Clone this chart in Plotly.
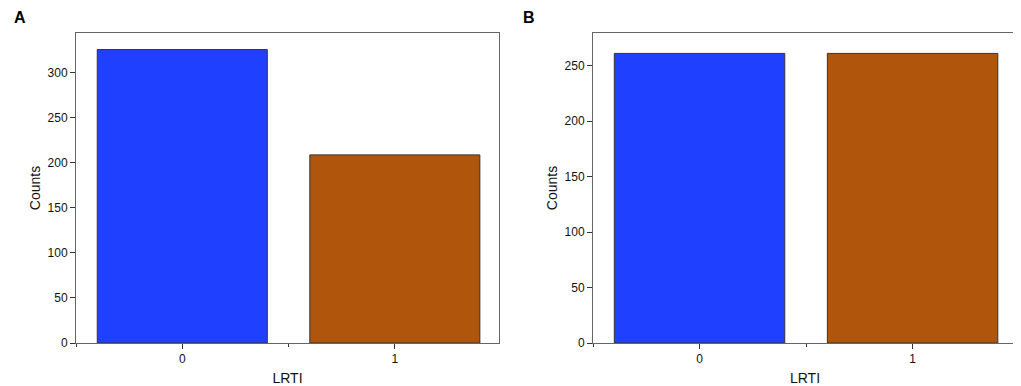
import plotly.graph_objects as go

categories = [0, 1]
counts_a = [326, 209]
counts_b = [261, 261]
bar_colors = ["#2040FF", "#B0550C"]
panel_labels = ["A", "B"]

# page body has 8px default margin: figure placed at (8, 8)
OFF = 8
W, H = 1021 - OFF, 386 - OFF
fig = go.Figure()

fig.add_trace(go.Bar(x=categories, y=counts_a, width=0.8, marker=dict(color=bar_colors, line=dict(color="#333333", width=1)),
                     xaxis="x", yaxis="y", showlegend=False))
fig.add_trace(go.Bar(x=categories, y=counts_b, width=0.8, marker=dict(color=bar_colors, line=dict(color="#333333", width=1)),
                     xaxis="x2", yaxis="y2", showlegend=False))

font_family = "Liberation Sans, Arial, sans-serif"

def px_x(p):
    return (p - OFF) / W

def px_y(p):
    return 1 - (p - OFF) / H

ydom = [px_y(343), px_y(33)]

def xax(domain, anchor):
    return dict(domain=domain, anchor=anchor, range=[-0.5, 1.49], tickvals=[0, 1], ticktext=["0", "1"],
                ticks="outside", ticklen=5, tickcolor="#333", showline=True, linecolor="#666", linewidth=1,
                mirror=True, showgrid=False, zeroline=False, automargin=False,
                minor=dict(tick0=0, dtick=0.5, ticks="outside", ticklen=3, tickcolor="#333"),
                title=dict(text="LRTI", font=dict(size=14, color="#111"), standoff=7),
                tickfont=dict(size=12, color="#111"))

def yax(domain, anchor, rng, dtick):
    return dict(domain=domain, anchor=anchor, range=rng, dtick=dtick, ticks="outside", ticklen=5,
                tickcolor="#333", showline=True, linecolor="#666", linewidth=1, mirror=True,
                showgrid=False, zeroline=False, automargin=False,
                title=dict(text="Counts", font=dict(size=14, color="#111"), standoff=3),
                tickfont=dict(size=12, color="#111"))

fig.update_layout(
    width=W, height=H, margin=dict(l=0, r=0, t=0, b=0),
    paper_bgcolor="white", plot_bgcolor="white",
    font=dict(family=font_family, color="#111"),
    bargap=0.2,
    xaxis=xax([px_x(76), px_x(499)], "y"),
    yaxis=yax(ydom, "x", [0, 344.4], 50),
    xaxis2=xax([px_x(593), px_x(1017)], "y2"),
    yaxis2=yax(ydom, "x2", [0, 279.4], 50),
    annotations=[
        dict(text="<b>" + panel_labels[0] + "</b>", x=px_x(20), y=px_y(17), xref="paper", yref="paper", showarrow=False,
             font=dict(size=16, color="black", family=font_family), xanchor="center", yanchor="middle"),
        dict(text="<b>" + panel_labels[1] + "</b>", x=px_x(529), y=px_y(17), xref="paper", yref="paper", showarrow=False,
             font=dict(size=16, color="black", family=font_family), xanchor="center", yanchor="middle"),
    ],
)

fig.write_html("out.html")
